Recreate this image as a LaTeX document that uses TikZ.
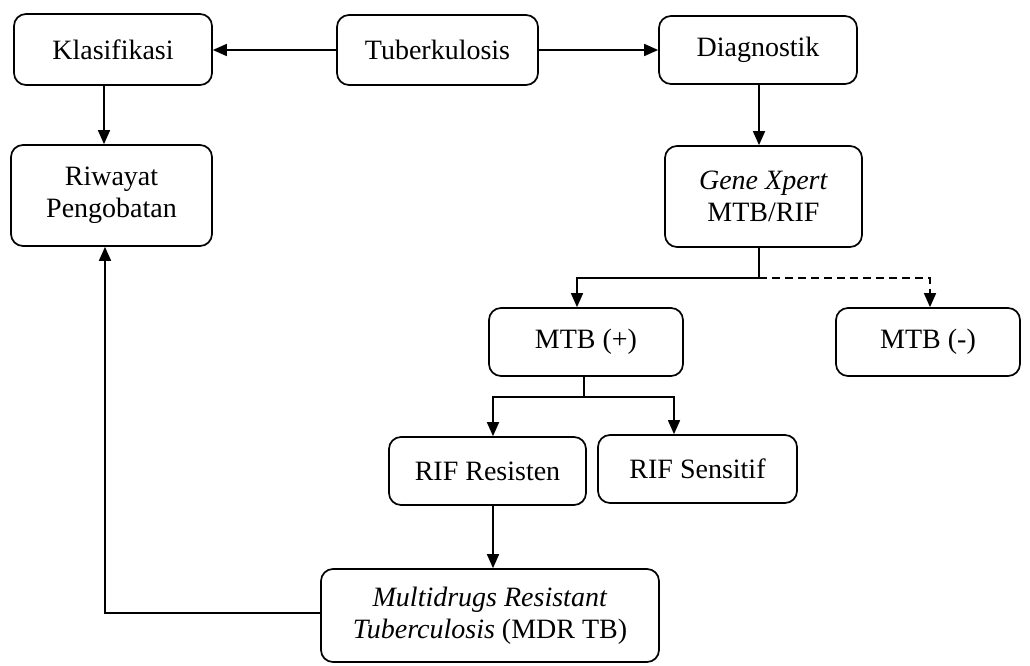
\documentclass[tikz,border=0pt]{standalone}
\usepackage{fontspec}
\setmainfont{Liberation Serif}
\usetikzlibrary{arrows.meta}
\begin{document}
\begin{tikzpicture}[x=1pt,y=-1pt,
  box/.style={draw, line width=1.7pt, rounded corners=12pt, align=center, inner sep=0pt,
    font=\fontsize{28}{32}\selectfont},
  conn/.style={line width=1.6pt, -{Triangle[length=14pt,width=12pt]}}]
\useasboundingbox (0,0) rectangle (1030,666);
\node[box, minimum width=198pt, minimum height=71pt] (k) at (113,49.5) {Klasifikasi};
\node[box, minimum width=201pt, minimum height=70pt] (t) at (437.5,50) {Tuberkulosis};
\node[box, minimum width=198pt, minimum height=68pt] (d) at (758,50) {Diagnostik};
\node[box, minimum width=201pt, minimum height=101pt] (r) at (111.5,195.5) {Riwayat\\Pengobatan};
\node[box, minimum width=197pt, minimum height=101pt] (g) at (763.5,196.5) {\textit{Gene Xpert}\\MTB/RIF};
\node[box, minimum width=194pt, minimum height=68pt] (mp) at (586,342) {MTB (+)};
\node[box, minimum width=184pt, minimum height=68pt] (mm) at (928,342) {MTB (-)};
\node[box, minimum width=197pt, minimum height=68pt] (rr) at (487.5,471) {RIF Resisten};
\node[box, minimum width=199pt, minimum height=68pt] (rs) at (697.5,469) {RIF Sensitif};
\node[box, minimum width=338pt, minimum height=93pt] (mdr) at (490,615.5) {\textit{Multidrugs Resistant}\\\textit{Tuberculosis} (MDR TB)};
\coordinate (kx) at (104,0);
\coordinate (gb) at (759,278);
\coordinate (mpx) at (577,0);
\coordinate (mmx) at (930,0);
\coordinate (mb) at (584,397);
\coordinate (rrx) at (493,0);
\coordinate (rsx) at (674,0);
\coordinate (ry) at (0,613);
\coordinate (rx) at (105,0);
\draw[conn] (t.west) -- (t.west -| k.east);
\draw[conn] (t.east) -- (t.east -| d.west);
\draw[conn] (k.south -| kx) -- (r.north -| kx);
\draw[conn] (d.south -| gb) -- (g.north -| gb);
\draw[line width=1.6pt] (g.south -| gb) -- (gb);
\draw[conn] (gb) -| (mp.north -| mpx);
\draw[conn, dashed, dash pattern=on 8pt off 5pt] (gb) -| (mm.north -| mmx);
\draw[line width=1.6pt] (mp.south -| mb) -- (mb);
\draw[conn] (mb) -| (rr.north -| rrx);
\draw[conn] (mb) -| (rs.north -| rsx);
\draw[conn] (rr.south -| rrx) -- (mdr.north -| rrx);
\draw[conn] (mdr.west |- ry) -| (r.south -| rx);
\end{tikzpicture}
\end{document}
